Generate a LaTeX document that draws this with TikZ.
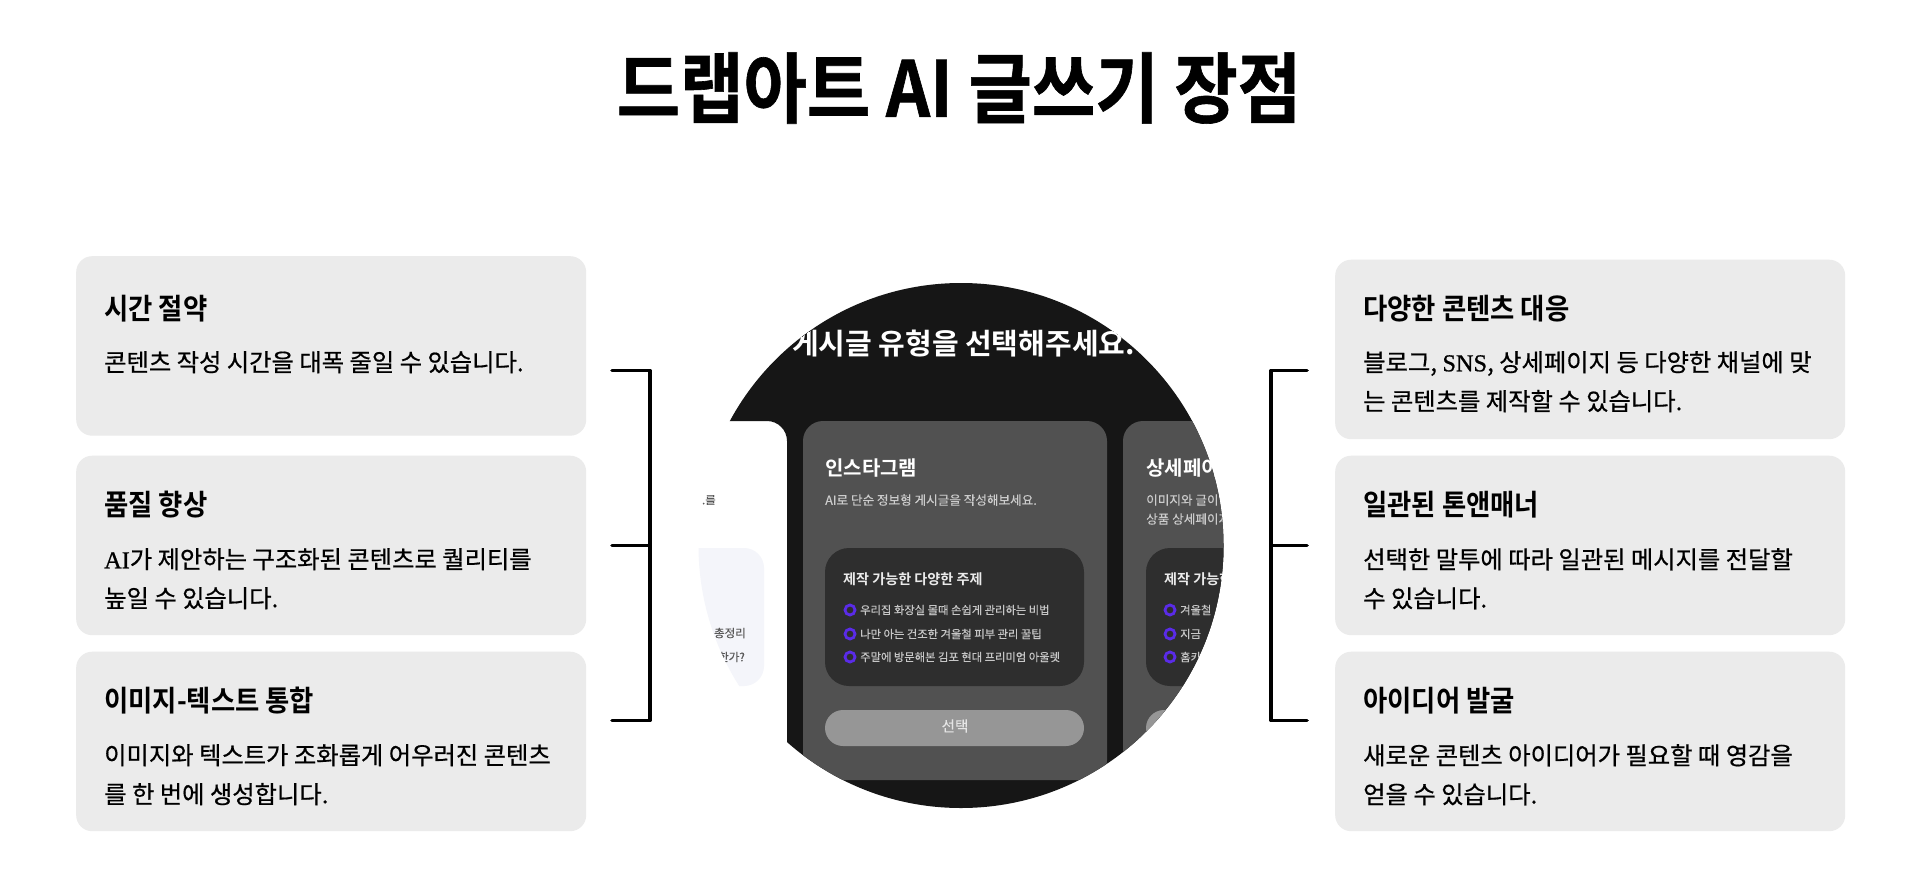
\documentclass[tikz,border=0pt]{standalone}
\usepackage{fontspec}
\setmainfont{Noto Sans CJK KR}
\newfontfamily\titlefont[FakeStretch=0.895,FakeBold=0.8]{Noto Sans CJK KR Bold}
\newfontfamily\headfont[FakeStretch=0.91]{Noto Sans CJK KR Bold}
\newfontfamily\boldfont{Noto Sans CJK KR Bold}
\newfontfamily\latfont[FakeBold=0.8]{Liberation Serif}
\definecolor{cardgray}{HTML}{EBEBEB}
\definecolor{shot}{HTML}{161616}
\definecolor{shotcard}{HTML}{515151}
\definecolor{shotinner}{HTML}{2E2E2E}
\definecolor{shotbtn}{HTML}{969696}
\definecolor{ringblue}{HTML}{5A2BE8}
\definecolor{lav}{HTML}{F4F5FA}
\newcommand{\fs}[2]{\fontsize{#1}{#2}\selectfont}
\tikzset{
  x=1pt,y=-1pt,
  infocard/.style={fill=cardgray,rounded corners=16pt,minimum width=510pt,minimum height=179.5pt,inner sep=0pt,anchor=north west},
  cardhead/.style={anchor=west,inner sep=0pt,font=\headfont\fs{29}{34},text=black},
  cardbody/.style={anchor=north west,inner sep=0pt,align=left,font=\fs{24.3}{39}\addfontfeature{FakeBold=0.6},text=black},
  bracket/.style={draw=black,line width=3.6pt,line cap=round,line join=round},
  sc/.style={rounded corners=20pt,fill=shotcard},
  si/.style={rounded corners=24pt,fill=shotinner},
  ring/.style={circle,draw=ringblue,line width=2.8pt,minimum size=10pt,inner sep=0pt},
  sitem/.style={anchor=west,inner sep=0pt,font=\fs{11.3}{14}\addfontfeature{FakeBold=0.3},text=black!22},
  ssub/.style={anchor=west,inner sep=0pt,font=\fs{12.6}{14}\addfontfeature{FakeBold=0.3},text=black!20},
  stitle/.style={anchor=west,inner sep=0pt,font=\boldfont\fs{20}{24},text=white},
  sinner/.style={anchor=west,inner sep=0pt,font=\boldfont\fs{14.1}{17},text=black!8},
  sleft/.style={anchor=east,inner sep=0pt,font=\fs{11.5}{14}\addfontfeature{FakeBold=0.3},text=black!65}
}
\begin{document}
\begin{tikzpicture}
\useasboundingbox (0,0) rectangle (1920,881);
\fill[white] (0,0) rectangle (1920,881);

\node[inner sep=0pt,font=\titlefont\fs{77}{80}] (title) at (959,88) {드랩아트 AI 글쓰기 장점};

% left cards
\node[infocard] (c1) at (76,256) {};
\node[infocard] (c2) at (76,455.5) {};
\node[infocard] (c3) at (76,651.5) {};
\node[cardhead] (c1h) at (104,309) {시간 절약};
\node[cardbody] (c1b) at (104,351) {콘텐츠 작성 시간을 대폭 줄일 수 있습니다.};
\node[cardhead] (c2h) at (104,505) {품질 향상};
\node[cardbody] (c2b) at (104,548) {{\latfont AI}가 제안하는 구조화된 콘텐츠로 퀄리티를\\높일 수 있습니다.};
\node[cardhead] (c3h) at (104,701) {이미지-텍스트 통합};
\node[cardbody] (c3b) at (104,744) {이미지와 텍스트가 조화롭게 어우러진 콘텐츠\\를 한 번에 생성합니다.};

% right cards
\node[infocard] (d1) at (1335,259.5) {};
\node[infocard] (d2) at (1335,455.5) {};
\node[infocard] (d3) at (1335,651.5) {};
\node[cardhead] (d1h) at (1363,309) {다양한 콘텐츠 대응};
\node[cardbody] (d1b) at (1363,351) {블로그, {\latfont SNS}, 상세페이지 등 다양한 채널에 맞\\는 콘텐츠를 제작할 수 있습니다.};
\node[cardhead] (d2h) at (1363,505) {일관된 톤앤매너};
\node[cardbody] (d2b) at (1363,548) {선택한 말투에 따라 일관된 메시지를 전달할\\수 있습니다.};
\node[cardhead] (d3h) at (1363,701) {아이디어 발굴};
\node[cardbody] (d3b) at (1363,744) {새로운 콘텐츠 아이디어가 필요할 때 영감을\\얻을 수 있습니다.};

% brackets
\coordinate (la) at (612,370.5); \coordinate (lat) at (650,370.5);
\coordinate (lb) at (612,545.5); \coordinate (lbt) at (650,545.5);
\coordinate (lc) at (612,720.5); \coordinate (lct) at (650,720.5);
\draw[bracket] (la) -- (lat) -- (lct) -- (lc);
\draw[bracket] (lb) -- (lbt);
\coordinate (ra) at (1307,370.5); \coordinate (rat) at (1271,370.5);
\coordinate (rb) at (1307,545.5); \coordinate (rbt) at (1271,545.5);
\coordinate (rc) at (1307,720.5); \coordinate (rct) at (1271,720.5);
\draw[bracket] (ra) -- (rat) -- (rct) -- (rc);
\draw[bracket] (rb) -- (rbt);

% circular screenshot
\begin{scope}
\clip (961,545.5) circle [radius=262.5];
\fill[shot] (690,280) -- (1230,280) -- (1230,815) -- (787,815) -- (787,441) .. controls (787,430) and (778,421) .. (767,421) -- (690,421) -- cycle;
\fill[lav,rounded corners=20pt] (650,548) rectangle (764,686);
\node[sleft] (l1) at (716,500) {.를};
\node[sleft] (l0) at (706,609) {ㅣ};
\node[sleft] (l2) at (746,633) {총정리};
\node[sleft] (l3) at (745,657) {한가?};
\node[anchor=east,inner sep=0pt,font=\boldfont\fs{29}{34},text=white] (hd) at (1135,344) {게시글 유형을 선택해주세요.};
% first card
\fill[sc] (803,421) rectangle (1107,780);
\fill[si] (825,548) rectangle (1084,686);
\fill[shotbtn,rounded corners=18pt] (825,710) rectangle (1084,746);
\node[stitle] (t1) at (825,468) {인스타그램};
\node[ssub] (s1) at (825,500) {AI로 단순 정보형 게시글을 작성해보세요.};
\node[sinner] (i1) at (843,579) {제작 가능한 다양한 주제};
\node[ring] (r1) at (850,610) {};
\node[ring] (r2) at (850,634) {};
\node[ring] (r3) at (850,657) {};
\node[sitem] (a1) at (860,610) {우리집 화장실 몰때 손쉽게 관리하는 비법};
\node[sitem] (a2) at (860,634) {나만 아는 건조한 겨울철 피부 관리 꿀팁};
\node[sitem] (a3) at (860,657) {주말에 방문해본 김포 현대 프리미엄 아울렛};
\node[inner sep=0pt,font=\fs{14.5}{16}\addfontfeature{FakeBold=0.3},text=black!10] (b1) at (955,726) {선택};
% second card
\fill[sc] (1123,421) rectangle (1430,780);
\fill[si] (1146,548) rectangle (1405,686);
\fill[shotbtn,rounded corners=18pt] (1146,710) rectangle (1405,746);
\node[stitle] (t2) at (1146,468) {상세페이지};
\node[ssub] (s2) at (1146,500) {이미지와 글이};
\node[ssub] (s3) at (1146,519) {상품 상세페이지};
\node[sinner] (i2) at (1164,579) {제작 가능한};
\node[ring] (r4) at (1170,610) {};
\node[ring] (r5) at (1170,634) {};
\node[ring] (r6) at (1170,657) {};
\node[sitem] (a4) at (1180,610) {겨울철};
\node[sitem] (a5) at (1180,634) {지금};
\node[sitem] (a6) at (1180,657) {홈카};
\end{scope}
\end{tikzpicture}
\end{document}
